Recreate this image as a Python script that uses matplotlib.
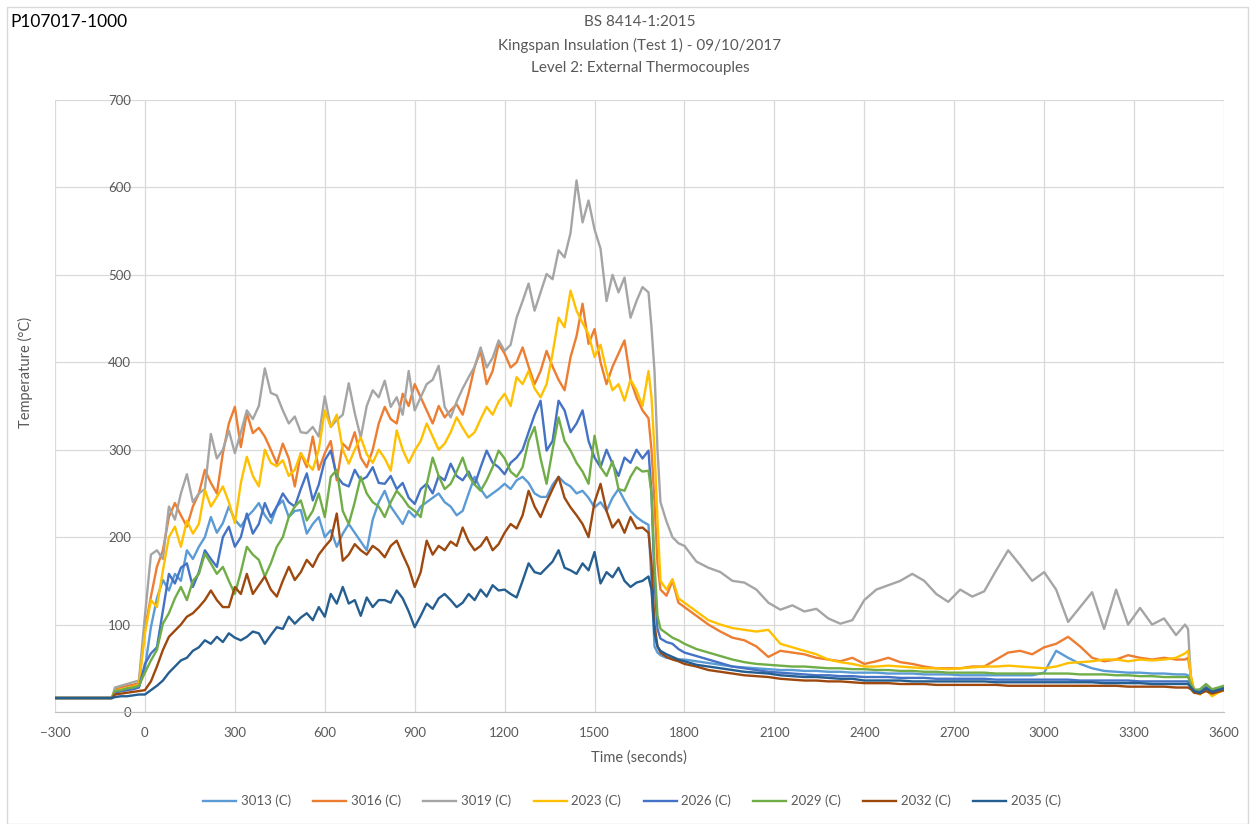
import matplotlib
matplotlib.use("Agg")
import matplotlib.pyplot as plt
from matplotlib.patches import Rectangle

# time axis (seconds): pre-test, fire phase, drop, cooling, end
time_s = ([-300, -110, -100, -80, -60, -40, -20]
          + list(range(0, 1681, 20))
          + [1690, 1700, 1710, 1720, 1740, 1760, 1780]
          + list(range(1800, 3441, 40))
          + [3470, 3480, 3490, 3500, 3520, 3540, 3560, 3580, 3600])

t3013 = ([16, 16, 22, 24, 25, 27, 29]
         + [50, 97, 130, 151, 139, 158, 150, 185, 175, 189,
            200, 223, 205, 216, 235, 220, 212, 223, 230, 239,
            225, 216, 235, 242, 223, 230, 231, 204, 215, 223,
            200, 208, 189, 204, 215, 205, 195, 185, 220, 240,
            253, 235, 225, 215, 230, 223, 235, 240, 245, 250,
            240, 235, 225, 230, 250, 269, 255, 245, 250, 255,
            261, 255, 265, 269, 262, 250, 246, 246, 260, 269,
            262, 258, 250, 253, 245, 234, 240, 230, 245, 255,
            242, 230, 223, 218, 214]
         + [150, 75, 68, 65, 62, 61, 60]
         + [60, 58, 56, 54, 52, 51, 50, 49, 48, 48,
            47, 47, 46, 46, 45, 45, 45, 44, 44, 44,
            43, 43, 43, 42, 42, 42, 42, 42, 42, 42,
            45, 70, 62, 55, 50, 47, 46, 45, 45, 44,
            44, 43]
         + [43, 42, 32, 26, 24, 30, 24, 26, 28])

t3016 = ([16, 16, 26, 28, 30, 31, 33]
         + [95, 132, 166, 185, 223, 239, 225, 212, 235, 250,
            277, 262, 250, 296, 330, 349, 303, 342, 319, 325,
            315, 300, 284, 307, 290, 258, 296, 280, 315, 277,
            296, 310, 265, 307, 300, 320, 291, 280, 300, 330,
            349, 335, 330, 364, 350, 375, 360, 345, 330, 350,
            337, 345, 352, 340, 365, 395, 413, 375, 390, 421,
            410, 394, 400, 417, 395, 375, 390, 413, 395, 380,
            368, 406, 430, 467, 421, 438, 400, 375, 395, 410,
            425, 380, 360, 345, 336]
         + [300, 240, 170, 140, 133, 150, 125]
         + [120, 110, 100, 92, 85, 82, 75, 63, 70, 68,
            66, 62, 60, 58, 62, 55, 58, 62, 57, 55,
            52, 50, 50, 50, 52, 52, 60, 68, 70, 66,
            74, 78, 86, 75, 62, 58, 60, 65, 62, 60,
            62, 60]
         + [60, 62, 40, 25, 22, 28, 24, 27, 27])

t3019 = ([16, 16, 28, 30, 32, 34, 36]
         + [110, 180, 185, 175, 235, 220, 250, 272, 240, 250,
            255, 318, 290, 300, 322, 296, 320, 345, 335, 350,
            393, 365, 362, 345, 330, 338, 320, 319, 326, 315,
            361, 326, 334, 340, 376, 342, 314, 350, 368, 360,
            379, 349, 360, 340, 390, 345, 360, 375, 380, 396,
            349, 337, 355, 370, 383, 395, 417, 394, 405, 425,
            413, 420, 451, 470, 490, 459, 480, 501, 495, 528,
            520, 548, 608, 560, 585, 552, 530, 470, 500, 480,
            497, 451, 470, 486, 480]
         + [440, 390, 300, 240, 218, 200, 193]
         + [190, 172, 165, 160, 150, 148, 140, 125, 117, 122,
            115, 118, 107, 101, 105, 128, 140, 145, 150, 158,
            150, 135, 126, 140, 132, 138, 162, 185, 168, 150,
            160, 140, 103, 120, 137, 95, 140, 100, 119, 100,
            107, 88]
         + [100, 95, 35, 25, 22, 28, 20, 26, 25])

t2023 = ([16, 16, 24, 26, 27, 29, 31]
         + [90, 128, 120, 162, 200, 212, 189, 219, 204, 215,
            254, 235, 246, 258, 240, 216, 262, 292, 270, 258,
            300, 285, 281, 288, 270, 277, 296, 285, 277, 300,
            345, 326, 340, 300, 284, 300, 314, 295, 285, 300,
            290, 276, 322, 300, 285, 299, 310, 330, 315, 300,
            307, 320, 337, 325, 314, 320, 335, 349, 340, 355,
            364, 350, 383, 375, 390, 370, 360, 375, 410, 451,
            440, 482, 459, 445, 432, 406, 420, 390, 368, 375,
            356, 380, 368, 350, 390]
         + [360, 300, 220, 150, 140, 152, 130]
         + [125, 115, 105, 100, 96, 94, 92, 94, 78, 74,
            70, 66, 60, 57, 55, 52, 52, 53, 52, 51,
            50, 50, 49, 50, 51, 52, 52, 53, 52, 51,
            50, 52, 56, 57, 58, 60, 60, 58, 60, 59,
            60, 62]
         + [67, 70, 40, 24, 20, 26, 18, 22, 25])

t2026 = ([16, 16, 22, 24, 25, 26, 28]
         + [55, 67, 74, 116, 158, 147, 165, 170, 143, 160,
            185, 175, 166, 200, 212, 189, 200, 227, 204, 215,
            239, 223, 235, 250, 240, 235, 255, 273, 242, 260,
            288, 299, 270, 261, 258, 277, 265, 269, 280, 262,
            261, 270, 255, 262, 245, 238, 255, 261, 250, 270,
            265, 284, 270, 265, 275, 260, 280, 299, 285, 280,
            272, 285, 291, 300, 320, 340, 356, 299, 310, 356,
            345, 320, 330, 345, 310, 291, 280, 300, 284, 270,
            291, 285, 300, 290, 299]
         + [250, 150, 95, 84, 80, 78, 72]
         + [68, 64, 60, 56, 52, 50, 48, 46, 45, 44,
            43, 42, 42, 41, 41, 40, 40, 40, 39, 39,
            39, 38, 38, 38, 38, 38, 37, 37, 37, 37,
            37, 37, 37, 36, 36, 36, 36, 36, 35, 35,
            35, 35]
         + [35, 35, 30, 25, 23, 28, 24, 26, 28])

t2029 = ([16, 16, 24, 25, 27, 28, 30]
         + [45, 59, 71, 101, 113, 130, 143, 128, 150, 158,
            181, 170, 158, 166, 150, 135, 160, 189, 180, 174,
            155, 170, 189, 200, 223, 235, 242, 219, 230, 250,
            223, 269, 277, 230, 215, 240, 269, 250, 240, 235,
            223, 240, 253, 245, 235, 230, 223, 260, 291, 270,
            255, 261, 275, 291, 270, 260, 253, 265, 280, 299,
            290, 275, 269, 280, 310, 326, 290, 261, 300, 337,
            310, 299, 285, 275, 261, 316, 280, 270, 287, 255,
            253, 269, 280, 275, 276]
         + [250, 170, 110, 95, 90, 85, 82]
         + [78, 72, 68, 64, 60, 57, 55, 54, 53, 52,
            52, 51, 50, 50, 49, 49, 48, 48, 47, 47,
            46, 46, 45, 45, 45, 45, 44, 44, 44, 44,
            44, 44, 44, 43, 43, 43, 42, 42, 41, 41,
            40, 40]
         + [40, 40, 32, 25, 26, 32, 26, 28, 30])

t2032 = ([16, 16, 20, 21, 22, 23, 24]
         + [25, 35, 52, 71, 86, 93, 100, 109, 113, 120,
            128, 139, 128, 120, 120, 143, 135, 158, 135, 145,
            155, 140, 132, 150, 166, 151, 160, 174, 166, 180,
            189, 197, 227, 173, 180, 192, 185, 180, 190, 185,
            177, 190, 196, 180, 165, 143, 160, 196, 180, 190,
            185, 195, 190, 211, 195, 185, 190, 200, 185, 192,
            205, 215, 210, 225, 253, 235, 223, 240, 255, 269,
            245, 234, 225, 215, 200, 240, 261, 230, 211, 220,
            205, 223, 210, 211, 205]
         + [170, 100, 75, 68, 63, 60, 58]
         + [55, 52, 48, 46, 44, 42, 41, 40, 38, 37,
            36, 36, 35, 35, 34, 33, 33, 33, 32, 32,
            32, 31, 31, 31, 31, 31, 31, 30, 30, 30,
            30, 30, 30, 30, 30, 30, 30, 29, 29, 29,
            29, 28]
         + [28, 28, 26, 22, 21, 24, 21, 23, 25])

t2035 = ([16, 16, 17, 18, 18, 19, 20]
         + [20, 25, 30, 36, 45, 52, 59, 62, 70, 74,
            82, 78, 86, 80, 90, 85, 82, 86, 92, 90,
            78, 88, 97, 95, 109, 101, 108, 113, 105, 120,
            109, 135, 124, 143, 124, 128, 110, 131, 120, 128,
            128, 125, 139, 130, 115, 97, 110, 124, 118, 130,
            135, 128, 120, 125, 135, 128, 140, 132, 145, 139,
            140, 135, 131, 150, 170, 160, 158, 165, 172, 185,
            165, 162, 158, 170, 162, 183, 147, 160, 154, 165,
            150, 143, 148, 150, 155]
         + [140, 90, 75, 70, 66, 63, 60]
         + [58, 54, 52, 50, 48, 46, 45, 44, 42, 41,
            40, 40, 39, 38, 38, 36, 36, 36, 36, 35,
            35, 35, 35, 35, 35, 35, 34, 34, 34, 34,
            34, 34, 34, 34, 34, 33, 33, 33, 33, 32,
            32, 32]
         + [32, 32, 28, 24, 22, 27, 23, 25, 27])

labels = ["3013 (C)", "3016 (C)", "3019 (C)", "2023 (C)",
          "2026 (C)", "2029 (C)", "2032 (C)", "2035 (C)"]
series = [t3013, t3016, t3019, t2023, t2026, t2029, t2032, t2035]
colors = ["#5B9BD5", "#ED7D31", "#A5A5A5", "#FFC000",
          "#4472C4", "#70AD47", "#9E480E", "#255E91"]

for s in series:
    assert len(s) == len(time_s), (len(s), len(time_s))

plt.rcParams['font.family'] = ['Lato', 'DejaVu Sans']

fig = plt.figure(figsize=(12.55, 8.24), dpi=100)
ax = fig.add_axes([55 / 1255, 1 - 712 / 824, (1224 - 55) / 1255, (712 - 100) / 824])

for vals, lab, col in zip(series, labels, colors):
    ax.plot(time_s, vals, color=col, lw=1.7, label=lab)

ax.set_xlim(-300, 3600)
ax.set_ylim(0, 700)
ax.set_xticks(range(-300, 3601, 300))
ax.set_yticks(range(0, 701, 100))
ax.grid(True, color="#D9D9D9", lw=0.9)
ax.set_axisbelow(True)
for side in ["top", "right"]:
    ax.spines[side].set_visible(False)
# value axis crosses the time axis at 0 s, so its labels sit there
ax.spines["left"].set_position(("data", 0))
ax.spines["left"].set_visible(False)
ax.spines["bottom"].set_color("#BFBFBF")
ax.tick_params(length=0, colors="#595959", labelsize=9.5)
ax.tick_params(axis="x", pad=11)
ax.tick_params(axis="y", pad=10)

ax.set_xlabel("Time (seconds)", color="#595959", fontsize=10.5)
ax.xaxis.set_label_coords((639 - 55) / 1169, -(750 - 712) / 612)
ax.set_ylabel("Temperature (°C)", color="#595959", fontsize=10.5)
ax.yaxis.set_label_coords((33 - 55) / 1169, (712 - 372) / 612)

title_lines = ["BS 8414-1:2015",
               "Kingspan Insulation (Test 1) - 09/10/2017",
               "Level 2: External Thermocouples"]
for i, line in enumerate(title_lines):
    fig.text(640 / 1255, 1 - (22 + i * 23) / 824, line, ha="center", va="center",
             fontsize=11, color="#595959")

fig.text(10 / 1255, 1 - 22 / 824, "P107017-1000", ha="left", va="center",
         fontsize=12.5, color="#000000")

ax.legend(loc="center", bbox_to_anchor=(632 / 1255, 1 - 801 / 824),
          bbox_transform=fig.transFigure, ncol=8, frameon=False,
          fontsize=9.5, handlelength=2.5, handletextpad=0.35,
          columnspacing=1.7, labelcolor="#595959")

fig.patches.append(Rectangle((7 / 1255, 0.0), 1 - 14 / 1255, 1 - 7 / 824,
                             transform=fig.transFigure, fill=False,
                             edgecolor="#D9D9D9", lw=1))

fig.savefig("out.png", dpi=100, facecolor="white")
